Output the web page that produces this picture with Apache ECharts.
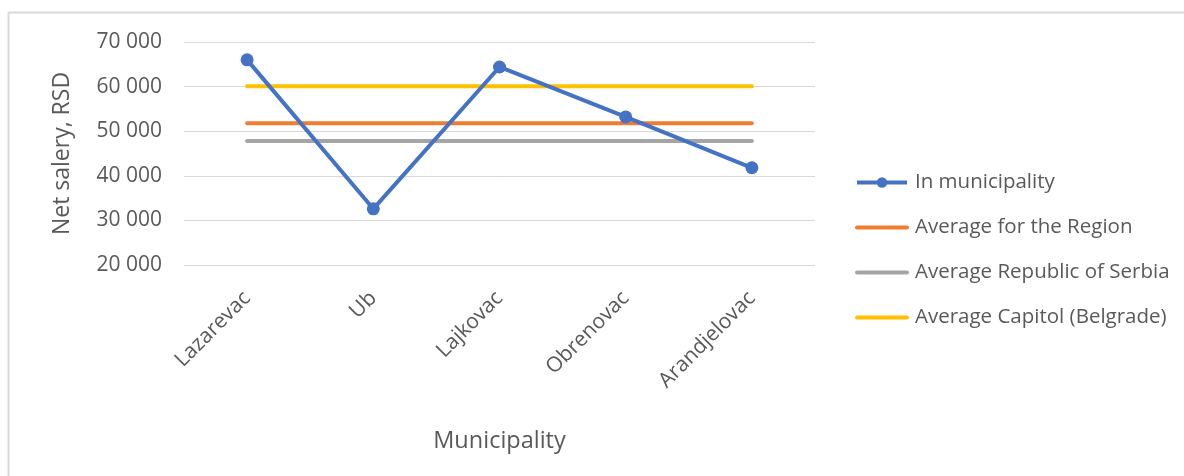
<!DOCTYPE html>
<html>
<head>
<meta charset="utf-8">
<script src="https://cdn.jsdelivr.net/npm/echarts@6/dist/echarts.min.js"></script>
<style>
  html, body { margin: 0; padding: 0; background: #fff; }
  #chart { width: 1184px; height: 476px; }
</style>
</head>
<body>
<div id="chart"></div>
<script>
// Municipalities on the category axis
const municipalities = ['Lazarevac', 'Ub', 'Lajkovac', 'Obrenovac', 'Arandjelovac'];
// Net salary in each municipality, RSD
const inMunicipality = [66000, 32600, 64400, 53200, 41800];
// Reference averages, RSD
const avgRegion = 51800;
const avgSerbia = 47800;
const avgCapital = 60100;
// Value axis ticks
const yMin = 20000, yMax = 70000, yStep = 10000;

const FONT = '"Open Sans", "Noto Sans", sans-serif';
const TEXT = '#595959';

const chart = echarts.init(document.getElementById('chart'), null, { renderer: 'canvas' });

const flat = v => municipalities.map(() => v);

// thousands separated by a space: 70000 -> "70 000"
function fmt(v) {
  return String(v).replace(/\B(?=(\d{3})+(?!\d))/g, ' ');
}

const flatLegend = name => ({ name, itemStyle: { opacity: 0 }, lineStyle: { width: 4 } });

chart.setOption({
  animation: false,
  backgroundColor: '#fff',
  graphic: [
    { type: 'line', shape: { x1: 8.5, y1: 12.5, x2: 1184, y2: 12.5 }, style: { stroke: '#d9d9d9', lineWidth: 2 } },
    { type: 'line', shape: { x1: 8.5, y1: 12.5, x2: 8.5, y2: 476 }, style: { stroke: '#d9d9d9', lineWidth: 2 } }
  ],
  grid: { left: 184, top: 42, width: 631, height: 223, containLabel: false },
  legend: {
    orient: 'vertical',
    left: 855,
    top: 172,
    padding: 0,
    itemGap: 24,
    itemWidth: 50,
    itemHeight: 13,
    textStyle: { fontFamily: FONT, fontSize: 20.5, color: TEXT, padding: [0, 0, 0, 3] },
    data: [
      { name: 'In municipality', lineStyle: { width: 4 } },
      flatLegend('Average for the Region'),
      flatLegend('Average Republic of Serbia'),
      flatLegend('Average Capitol (Belgrade)')
    ]
  },
  xAxis: {
    type: 'category',
    data: municipalities,
    boundaryGap: true,
    axisLine: { show: false },
    axisTick: { show: false },
    axisLabel: {
      rotate: 45,
      margin: 30,
      fontFamily: FONT,
      fontSize: 21,
      color: TEXT
    },
    name: 'Municipality',
    nameLocation: 'middle',
    nameGap: 164,
    nameTextStyle: { fontFamily: FONT, fontSize: 23.5, color: TEXT }
  },
  yAxis: {
    type: 'value',
    min: yMin,
    max: yMax,
    interval: yStep,
    axisLine: { show: false },
    axisTick: { show: false },
    splitLine: { lineStyle: { color: '#d9d9d9', width: 1 } },
    axisLabel: {
      margin: 22,
      fontFamily: FONT,
      fontSize: 21,
      color: TEXT,
      formatter: fmt
    },
    name: 'Net salery, RSD',
    nameLocation: 'middle',
    nameGap: 110,
    nameRotate: 90,
    nameTextStyle: { fontFamily: FONT, fontSize: 23, color: TEXT }
  },
  series: [
    {
      name: 'Average for the Region',
      type: 'line',
      data: flat(avgRegion),
      symbol: 'none',
      lineStyle: { color: '#ed7d31', width: 4, cap: 'round' },
      itemStyle: { color: '#ed7d31' },
      z: 2
    },
    {
      name: 'Average Republic of Serbia',
      type: 'line',
      data: flat(avgSerbia),
      symbol: 'none',
      lineStyle: { color: '#a5a5a5', width: 4, cap: 'round' },
      itemStyle: { color: '#a5a5a5' },
      z: 2
    },
    {
      name: 'Average Capitol (Belgrade)',
      type: 'line',
      data: flat(avgCapital),
      symbol: 'none',
      lineStyle: { color: '#ffc000', width: 4, cap: 'round' },
      itemStyle: { color: '#ffc000' },
      z: 2
    },
    {
      name: 'In municipality',
      type: 'line',
      data: inMunicipality,
      symbol: 'circle',
      symbolSize: 13,
      lineStyle: { color: '#4472c4', width: 4 },
      itemStyle: { color: '#4472c4' },
      z: 3
    }
  ]
});
</script>
</body>
</html>
